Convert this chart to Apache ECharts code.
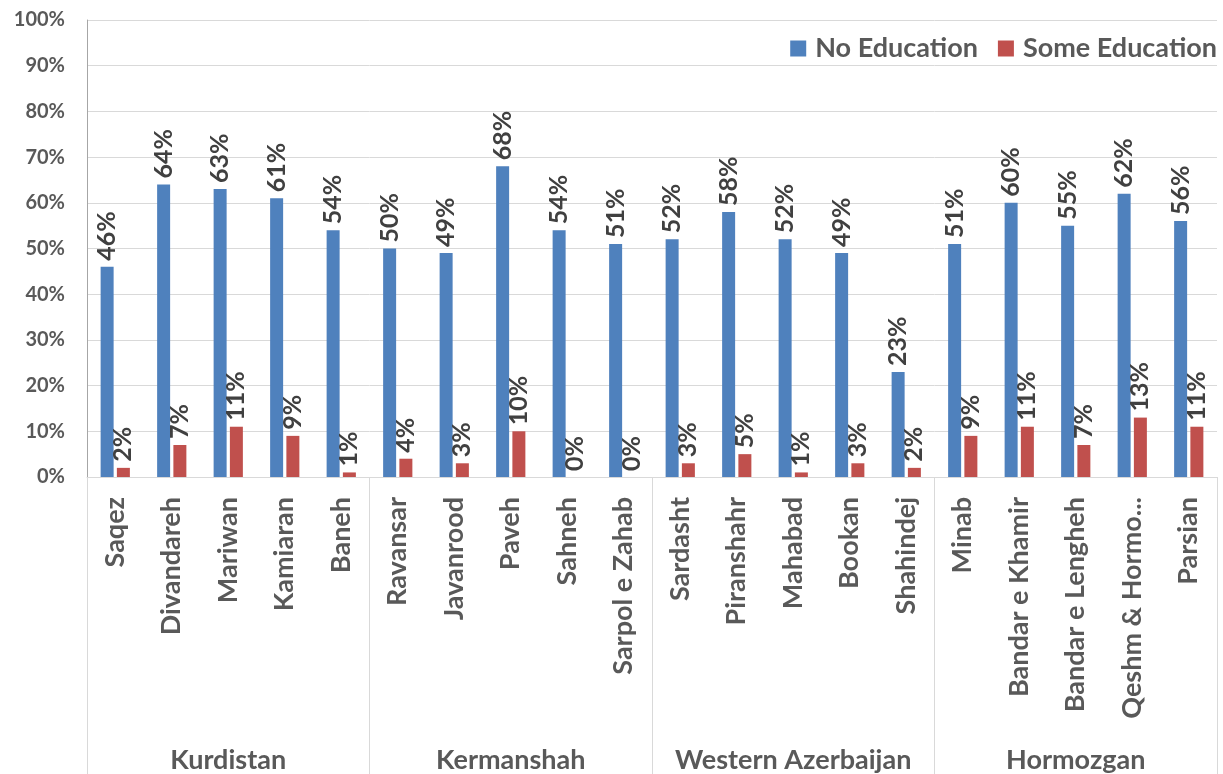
<!DOCTYPE html>
<html>
<head>
<meta charset="utf-8">
<script src="https://cdn.jsdelivr.net/npm/echarts@6/dist/echarts.min.js"></script>
<style>
html,body{margin:0;padding:0;background:#fff;}
#chart{width:1223px;height:774px;}
</style>
</head>
<body>
<div id="chart"></div>
<script>
const cities = ['Saqez','Divandareh','Mariwan','Kamiaran','Baneh',
  'Ravansar','Javanrood','Paveh','Sahneh','Sarpol e Zahab',
  'Sardasht','Piranshahr','Mahabad','Bookan','Shahindej',
  'Minab','Bandar e Khamir','Bandar e Lengheh','Qeshm & Hormo...','Parsian'];
const provinces = ['Kurdistan','Kermanshah','Western Azerbaijan','Hormozgan'];
const citiesPerProvince = 5;
const noEducation = [46,64,63,61,54,50,49,68,54,51,52,58,52,49,23,51,60,55,62,56];
const someEducation = [2,7,11,9,1,4,3,10,0,0,3,5,1,3,2,9,11,7,13,11];
const yTicks = {min:0, max:100, interval:10};

const FONT = 'Lato';
const chart = echarts.init(document.getElementById('chart'));
const valueLabel = {
  show:true, position:'top', rotate:90, align:'left', verticalAlign:'middle',
  distance:6, formatter:'{c}%', color:'#404040', fontFamily:FONT,
  fontWeight:'bold', fontSize:25
};
chart.setOption({
  animation:false,
  textStyle:{fontFamily:FONT},
  legend:{
    right:1, top:30, itemWidth:16, itemHeight:16, itemGap:20,
    icon:'rect',
    textStyle:{fontFamily:FONT, fontWeight:'bold', fontSize:27, color:'#595959', padding:[0,0,0,4]},
    data:['No Education','Some Education']
  },
  grid:{left:87, right:6, top:20, bottom:297, containLabel:false},
  xAxis:[{
    type:'category', data:cities, position:'bottom',
    axisLine:{show:true, lineStyle:{color:'#d9d9d9', width:1}},
    axisTick:{show:false},
    axisLabel:{interval:0, rotate:90, margin:20, color:'#595959',
      fontFamily:FONT, fontWeight:'bold', fontSize:27}
  },{
    type:'category', data:cities, position:'bottom', offset:0,
    axisLine:{show:false},
    axisTick:{show:true, length:297, interval:function(i){return i % citiesPerProvince === 0;},
      lineStyle:{color:'#d9d9d9', width:1}},
    axisLabel:{interval:function(i){return i % citiesPerProvince === 2;},
      formatter:function(v, i){return provinces[Math.floor(i/citiesPerProvince)];},
      margin:270, color:'#595959', fontFamily:FONT, fontWeight:'bold', fontSize:27}
  }],
  yAxis:{
    type:'value', min:yTicks.min, max:yTicks.max, interval:yTicks.interval,
    axisLine:{show:true, lineStyle:{color:'#a6a6a6'}},
    axisTick:{show:false},
    splitLine:{lineStyle:{color:'#d9d9d9'}},
    axisLabel:{formatter:'{value}%', color:'#595959', fontFamily:FONT,
      fontWeight:'bold', fontSize:20, margin:22}
  },
  series:[{
    name:'No Education', type:'bar', data:noEducation, barWidth:13, barGap:'25%',
    itemStyle:{color:'#4F81BD'}, label:valueLabel
  },{
    name:'Some Education', type:'bar', data:someEducation, barWidth:13, barGap:'25%',
    itemStyle:{color:'#C0504D'}, label:valueLabel
  }]
});
</script>
</body>
</html>
